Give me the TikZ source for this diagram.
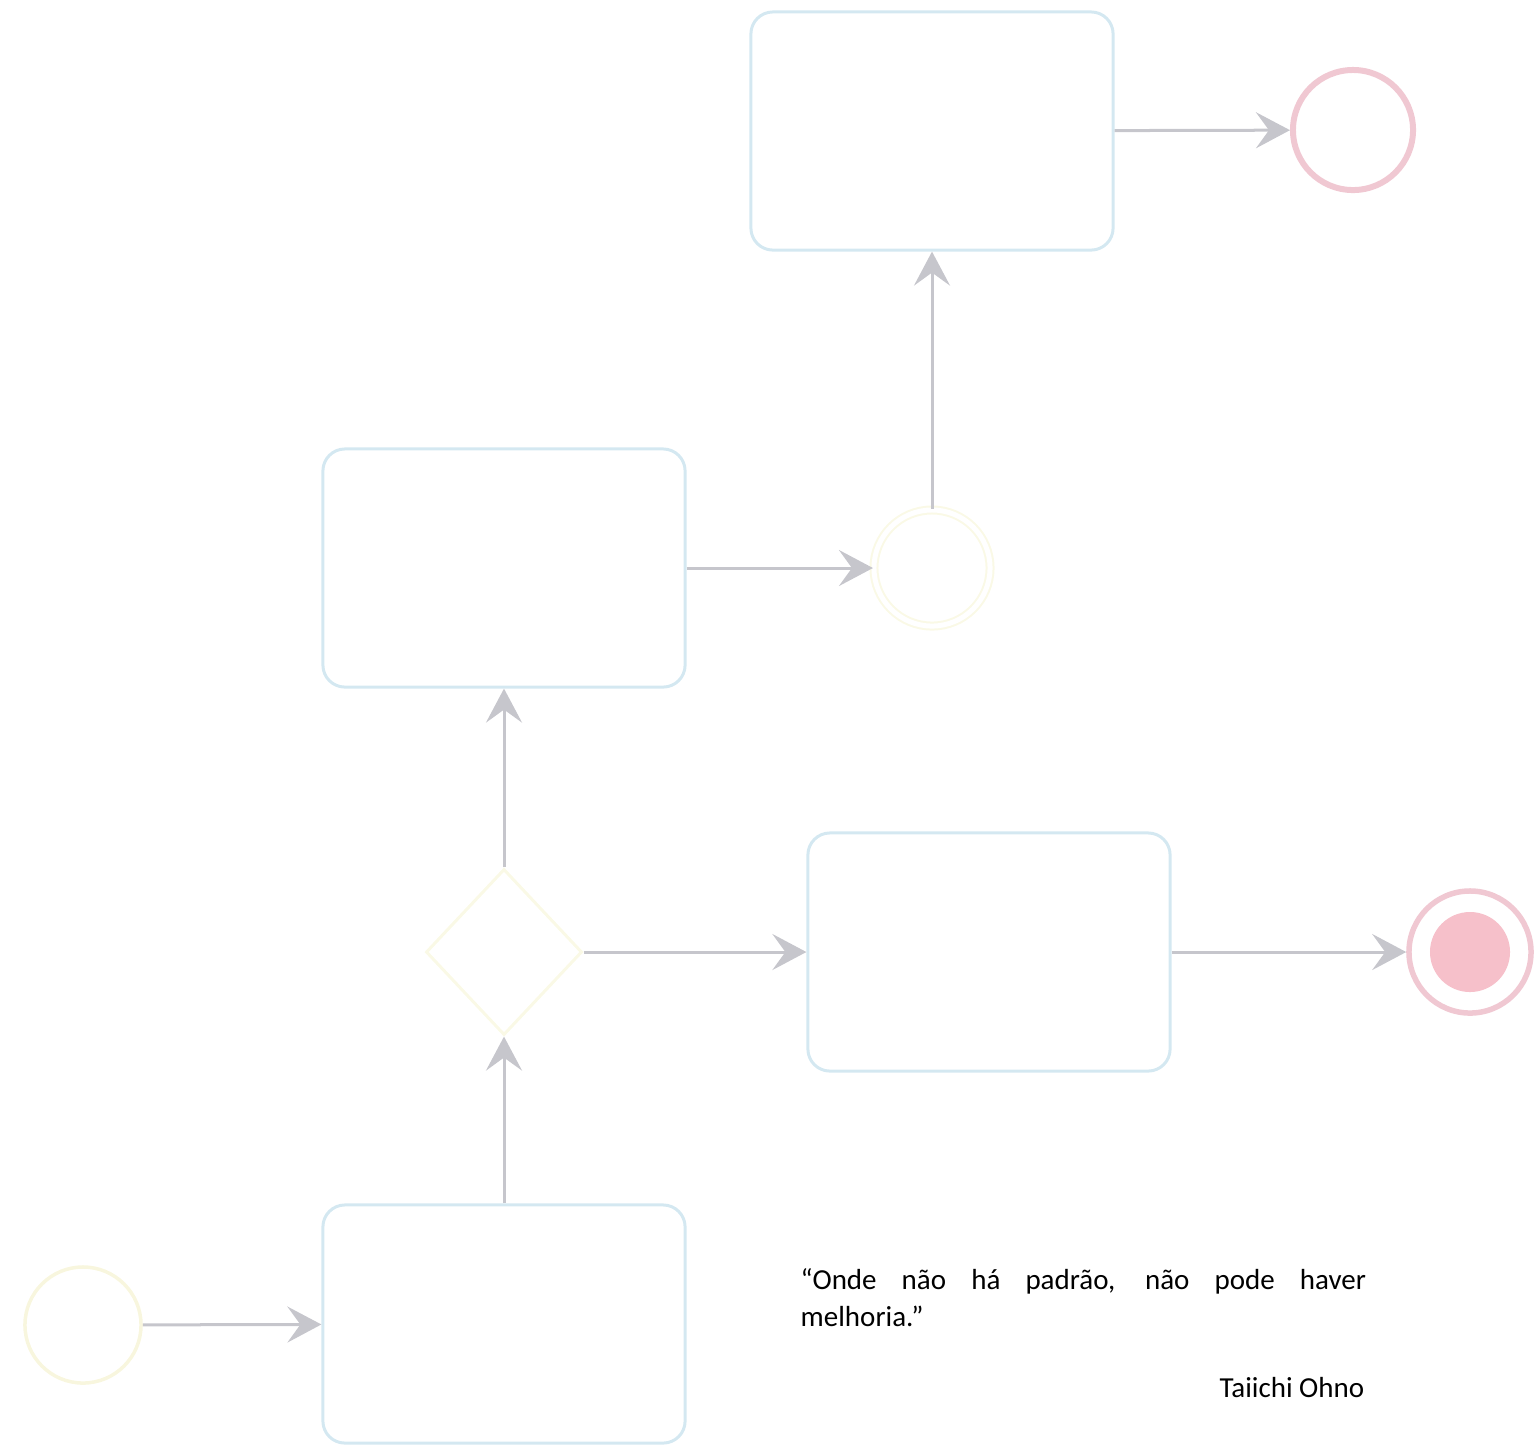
\documentclass[tikz,border=0pt]{standalone}
\usepackage{fontspec}
\setmainfont{Carlito}
\usetikzlibrary{arrows.meta,shapes.geometric}

\definecolor{taskline}{RGB}{212,232,241}
\definecolor{startline}{RGB}{248,246,222}
\definecolor{interline}{RGB}{250,249,230}
\definecolor{endline}{RGB}{240,200,210}
\definecolor{endfill}{RGB}{246,192,202}
\definecolor{flowline}{RGB}{198,198,204}

\begin{document}
\begin{tikzpicture}[x=0.01cm,y=-0.01cm,
  task/.style={draw=taskline,line width=0.03cm,rounded corners=0.22cm,minimum width=3.62cm,minimum height=2.38cm},
  event/.style={circle,inner sep=0,minimum size=1.16cm},
  flow/.style={draw=flowline,line width=0.03cm,-{Stealth[length=0.34cm,width=0.36cm,inset=0.13cm]}},
  quote/.style={inner sep=0,font=\fontsize{8.25}{10.6}\selectfont}]
\useasboundingbox (0,0) rectangle (1536,1444);

\node[event,draw=startline,line width=0.035cm] (start) at (83,1325) {};
\node[task] (taskA) at (504,1324) {};
\node[diamond,draw=interline,line width=0.03cm,inner sep=0,minimum width=1.56cm,minimum height=1.66cm] (gate) at (504,952) {};
\node[task] (taskB) at (504,568) {};
\node[event,draw=interline,line width=0.02cm,double=white,double distance=0.05cm] (inter) at (932,568) {};
\node[task] (taskC) at (932,131) {};
\node[event,draw=endline,line width=0.06cm,minimum size=1.2cm] (endA) at (1353,130) {};
\node[task] (taskD) at (989,952) {};
\node[event,draw=endline,line width=0.055cm,minimum size=1.22cm] (endB) at (1470,952) {};
\node[circle,fill=endfill,inner sep=0,minimum size=0.8cm] (endBdot) at (endB) {};

\draw[flow] (start) -- (taskA);
\draw[flow] (taskA) -- (gate);
\draw[flow] (gate) -- (taskB);
\draw[flow] (gate) -- (taskD);
\draw[flow] (taskB) -- (inter);
\draw[flow] (inter) -- (taskC);
\draw[flow] (taskC) -- (endA);
\draw[flow] (taskD) -- (endB);

\node[quote,text width=5.65cm,align=justify,anchor=north west] (saying) at (800,1268)
  {“Onde não há padrão, não pode haver\linebreak melhoria.”};
\node[quote,anchor=base east] (author) at (1365,1397) {Taiichi Ohno};
\end{tikzpicture}
\end{document}
